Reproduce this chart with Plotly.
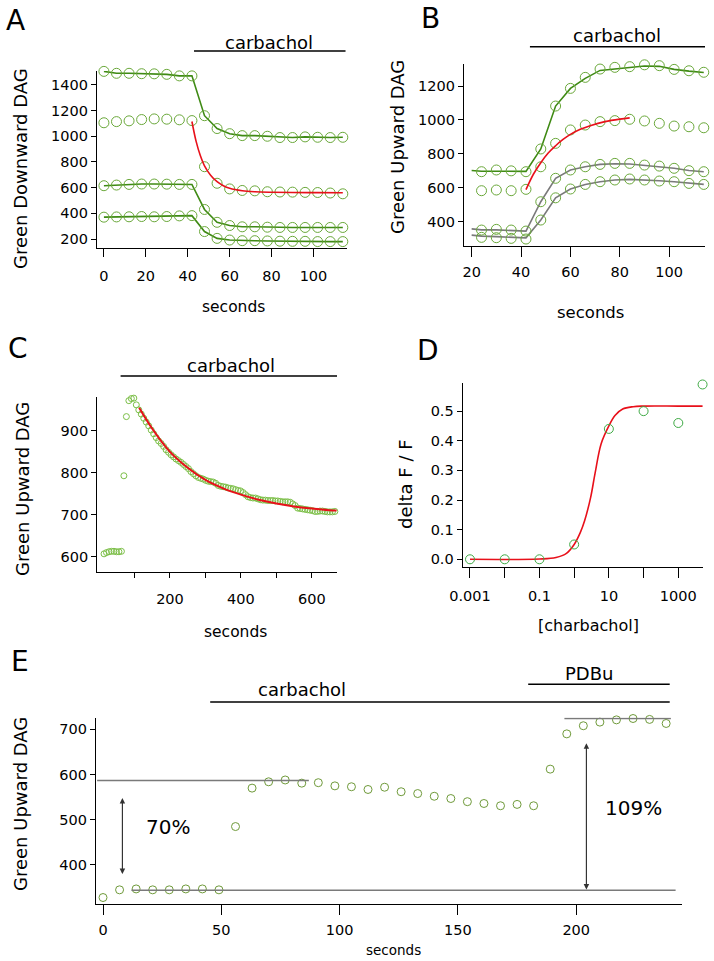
import plotly.graph_objects as go

W, H = 714, 961
FONT = "DejaVu Sans"

# ---------------- data ----------------
# A: Green Downward DAG, four cells
a_t = [0, 6, 12, 18, 24, 30, 36, 42, 48, 54, 60, 66, 72, 78, 84, 90, 96, 102, 108, 114]
a_cell1 = [1505, 1490, 1490, 1487, 1486, 1482, 1470, 1470, 1160, 1060, 1020, 1005, 1005, 1000, 990, 990, 995, 992, 990, 992]
a_cell2 = [1105, 1114, 1120, 1130, 1135, 1133, 1128, 1122, 763, 634, 590, 578, 575, 568, 566, 565, 563, 562, 558, 552]
a_cell3 = [615, 620, 625, 628, 628, 627, 625, 625, 430, 330, 305, 295, 295, 292, 290, 290, 290, 290, 290, 290]
a_cell4 = [370, 372, 373, 375, 373, 375, 380, 382, 258, 205, 192, 187, 187, 185, 183, 182, 182, 180, 180, 180]
a_fit_t = [42, 44, 46, 48, 51, 54, 57, 60, 66, 72, 80, 90, 102, 114]
a_fit_v = [1115, 960, 850, 770, 695, 646, 615, 595, 576, 568, 564, 562, 561, 560]

# B: Green Upward DAG, four cells
b_t = [24, 30, 36, 42, 48, 54, 60, 66, 72, 78, 84, 90, 96, 102, 108, 114]
b_cell1 = [695, 705, 700, 695, 829, 1082, 1186, 1251, 1300, 1310, 1314, 1325, 1320, 1298, 1290, 1281]
b_cell2 = [583, 587, 583, 591, 724, 862, 941, 970, 990, 996, 1004, 994, 980, 964, 960, 954]
b_cell3 = [351, 355, 351, 345, 518, 656, 705, 724, 738, 744, 744, 734, 728, 715, 701, 695]
b_cell4 = [308, 306, 302, 298, 410, 541, 593, 620, 636, 646, 652, 646, 640, 636, 626, 620]
b_line_t = [20, 24, 30, 36, 42, 48, 54, 60, 66, 72, 78, 84, 90, 96, 102, 108, 114]
b_line1 = [702, 698, 698, 698, 697, 829, 1082, 1186, 1245, 1292, 1302, 1310, 1318, 1316, 1298, 1288, 1280]
b_line3 = [358, 352, 352, 350, 345, 518, 656, 705, 724, 738, 742, 740, 733, 726, 715, 702, 695]
b_line4 = [321, 315, 312, 308, 305, 410, 541, 593, 620, 636, 646, 650, 648, 642, 636, 627, 620]
b_fit_t = [42, 45, 48, 51, 54, 57, 60, 64, 68, 74, 80, 84]
b_fit_v = [589, 680, 748, 805, 848, 885, 915, 945, 966, 990, 1005, 1012]

# C: long carbachol response
c_t = [14, 21, 28, 35, 42, 49, 56, 63, 70, 77, 84, 91, 98, 105, 112, 119, 126, 133, 140, 147,
       154, 161, 168, 175, 182, 189, 196, 203, 210, 217, 224, 231, 238, 245, 252, 259, 266, 273,
       280, 287, 294, 301, 308, 315, 322, 329, 336, 343, 350, 357, 364, 371, 378, 385, 392, 399,
       406, 413, 420, 427, 434, 441, 448, 455, 462, 469, 476, 483, 490, 497, 504, 511, 518, 525,
       532, 539, 546, 553, 560, 567, 574, 581, 588, 595, 602, 609, 616, 623, 630, 637, 644, 651,
       658, 665]
c_val = [607, 610, 612, 613, 613, 612, 612, 613, 793, 934, 972, 977, 978, 962, 950, 940, 930, 921, 912, 902,
         893, 884, 876, 870, 863, 855, 849, 843, 838, 833, 829, 825, 820, 815, 810, 803, 798, 793,
         789, 787, 785, 782, 780, 779, 778, 775, 770, 768, 767, 766, 764, 763, 762, 760, 758, 757,
         753, 748, 743, 741, 740, 740, 738, 736, 735, 735, 734, 734, 734, 733, 733, 732, 731, 731,
         731, 730, 726, 722, 716, 715, 714, 713, 712, 711, 710, 708, 708, 709, 709, 708, 707, 707,
         707, 708]
c_fit_t = [113, 150, 200, 250, 300, 350, 400, 450, 500, 550, 600, 650, 670]
c_fit_v = [955, 905, 850, 812, 783, 763, 748, 736, 727, 720, 715, 711, 710]

# D: dose response
d_conc = [0.001, 0.01, 0.1, 1, 10, 100, 1000, 5000]
d_resp = [0.0, 0.0, 0.0, 0.05, 0.44, 0.50, 0.46, 0.59]
d_fit_conc = [0.001, 0.1, 0.3, 0.6, 1, 1.5, 2, 3, 4, 6, 10, 15, 25, 50, 100, 1000, 5000]
d_fit_resp = [0.0, 0.001, 0.006, 0.02, 0.05, 0.09, 0.13, 0.21, 0.29, 0.39, 0.45, 0.485, 0.507, 0.515, 0.517, 0.517, 0.517]

# E: carbachol then PDBu
e_t = [0, 7, 14, 21, 28, 35, 42, 49, 56, 63, 70, 77, 84, 91, 98, 105, 112, 119, 126, 133,
       140, 147, 154, 161, 168, 175, 182, 189, 196, 203, 210, 217, 224, 231, 238]
e_val = [328, 345, 347, 345, 345, 347, 347, 345, 485, 570, 584, 588, 581, 582, 575, 573, 567, 572, 562, 558,
         552, 547, 540, 536, 531, 534, 531, 612, 690, 708, 716, 721, 724, 722, 713]
e_levels = [587, 344, 724]          # carbachol peak, baseline, PDBu peak
e_level_spans = [(-2.5, 87), (12, 242), (195, 240)]
e_labels = ["70%", "109%"]

# ---------------- styles ----------------
GREEN_M = "#6aa83a"
GREEN_L = "#3f8a14"
GRAY = "#7a7a7a"
RED = "#e8101a"


def pxx(x):
    return x / W


def pxy(y):
    return 1 - y / H


fig = go.Figure()


def circles(x, y, xa, ya, color=GREEN_M, size=10, mode="markers", line_color=None):
    fig.add_trace(go.Scatter(
        x=x, y=y, xaxis=xa, yaxis=ya, mode=mode, cliponaxis=False,
        marker=dict(symbol="circle-open", size=size, color=color, line=dict(width=1, color=color)),
        line=dict(color=line_color or color, width=1.6),
        showlegend=False, hoverinfo="skip"))


def curve(x, y, xa, ya, color, width=1.6, shape="linear"):
    fig.add_trace(go.Scatter(
        x=x, y=y, xaxis=xa, yaxis=ya, mode="lines", cliponaxis=False,
        line=dict(color=color, width=width, shape=shape),
        showlegend=False, hoverinfo="skip"))


# A
for s in (a_cell1, a_cell3, a_cell4):
    circles(a_t, s, "x", "y", mode="lines+markers", line_color=GREEN_L)
circles(a_t, a_cell2, "x", "y")
curve(a_fit_t, a_fit_v, "x", "y", RED, shape="spline")

# B
curve(b_line_t, b_line1, "x2", "y2", GREEN_L)
curve(b_line_t, b_line3, "x2", "y2", GRAY)
curve(b_line_t, b_line4, "x2", "y2", GRAY)
for s in (b_cell1, b_cell2, b_cell3, b_cell4):
    circles(b_t, s, "x2", "y2")
curve(b_fit_t, b_fit_v, "x2", "y2", RED, shape="spline")

# C
circles(c_t, c_val, "x3", "y3", color="#7cbf48", size=6)
curve(c_fit_t, c_fit_v, "x3", "y3", RED, width=2, shape="spline")

# D
curve(d_fit_conc, d_fit_resp, "x4", "y4", RED, shape="spline")
circles(d_conc, d_resp, "x4", "y4", color="#3faa45", size=9)

# E
for lvl, (x0, x1) in zip(e_levels, e_level_spans):
    fig.add_shape(type="line", xref="x5", yref="y5", x0=x0, x1=x1, y0=lvl, y1=lvl,
                  line=dict(color=GRAY, width=1.5))
circles(e_t, e_val, "x5", "y5", color="#6f9a3a", size=8)

ax_common = dict(showline=True, linecolor="black", linewidth=1.2, ticks="outside",
                 tickcolor="black", tickwidth=1, showgrid=False, zeroline=False,
                 automargin=False,
                 tickfont=dict(size=14.5, color="black", family=FONT))

fig.update_layout(
    width=W, height=H, margin=dict(l=0, r=0, t=0, b=0, autoexpand=False),
    paper_bgcolor="white", plot_bgcolor="white",
    font=dict(family=FONT, color="black"),
    xaxis=dict(domain=[pxx(97), pxx(347)], range=[-3.3, 116], anchor="y",
               tickvals=[0, 20, 40, 60, 80, 100], ticklen=8, ticklabelstandoff=6, **ax_common),
    yaxis=dict(domain=[pxy(248), pxy(71)], range=[130, 1508], anchor="x",
               tickvals=[200, 400, 600, 800, 1000, 1200, 1400], ticklen=5, **ax_common),
    xaxis2=dict(domain=[pxx(464), pxx(705)], range=[16.9, 114.5], anchor="y2",
                tickvals=[20, 40, 60, 80, 100], ticklen=10, ticklabelstandoff=2, **ax_common),
    yaxis2=dict(domain=[pxy(246), pxy(64.3)], range=[257, 1328], anchor="x2",
                tickvals=[400, 600, 800, 1000, 1200], ticklen=5, **ax_common),
    xaxis3=dict(domain=[pxx(97.3), pxx(337)], range=[-5, 671], anchor="y3",
                tickvals=[100, 200, 300, 400, 500, 600], ticktext=["", "200", "", "400", "", "600"],
                ticklen=5, ticklabelstandoff=8, **ax_common),
    yaxis3=dict(domain=[pxy(572.3), pxy(397.3)], range=[563, 980], anchor="x3",
                tickvals=[600, 700, 800, 900], ticklen=5, **ax_common),
    xaxis4=dict(domain=[pxx(462.7), pxx(703.3)], type="log", range=[-3.21, 3.72], anchor="y4",
                tickvals=[0.001, 0.01, 0.1, 1, 10, 100, 1000],
                ticktext=["0.001", "", "0.1", "", "10", "", "1000"],
                ticklen=10, ticklabelstandoff=6, **ax_common),
    yaxis4=dict(domain=[pxy(566.7), pxy(383)], range=[-0.025, 0.595], anchor="x4",
                tickvals=[0, 0.1, 0.2, 0.3, 0.4, 0.5], tickformat=".1f", ticklen=5, **ax_common),
    xaxis5=dict(domain=[pxx(96), pxx(682)], range=[-2.96, 244.7], anchor="y5",
                tickvals=[0, 50, 100, 150, 200], ticklen=10, ticklabelstandoff=2, **ax_common),
    yaxis5=dict(domain=[pxy(904.3), pxy(717.6)], range=[313, 726], anchor="x5",
                tickvals=[400, 500, 600, 700], ticklen=5, **ax_common),
)

# treatment bars: axis, start, end, bar y (px), label, label x (data), label y (px)
bars = [("x", 43, 115.3, 51, "carbachol", 79, 42),
        ("x2", 43.6, 116.5, 46.7, "carbachol", 79, 36),
        ("x3", 60.7, 682, 376, "carbachol", 371, 365),
        ("x5", 45.3, 239.5, 702, "carbachol", 84, 689),
        ("x5", 179.7, 239.5, 684.3, "PDBu", 205.3, 673)]
annots = []
for xa, x0, x1, ypx, label, xt, yt in bars:
    fig.add_shape(type="line", xref=xa, yref="paper", x0=x0, x1=x1, y0=pxy(ypx), y1=pxy(ypx),
                  line=dict(color="black", width=1.5))
    annots.append(dict(text=label, xref=xa, yref="paper", x=xt, y=pxy(yt), showarrow=False,
                       font=dict(size=18), xanchor="center", yanchor="middle"))

# panel letters
for letter, x, y in [("A", 15, 20), ("B", 430, 18), ("C", 18, 348), ("D", 428, 350), ("E", 20, 661)]:
    annots.append(dict(text=letter, xref="paper", yref="paper", x=pxx(x), y=pxy(y), showarrow=False,
                       font=dict(size=28), xanchor="center", yanchor="middle"))

# axis titles
for txt, x, y in [("Green Downward DAG", 20, 169), ("Green Upward DAG", 398, 147),
                  ("Green Upward DAG", 22, 489), ("delta F / F", 405, 484),
                  ("Green Upward DAG", 20, 804)]:
    annots.append(dict(text=txt, xref="paper", yref="paper", x=pxx(x), y=pxy(y), showarrow=False,
                       textangle=-90, font=dict(size=18), xanchor="center", yanchor="middle"))
for txt, x, y, s in [("seconds", 233, 307, 15.5), ("seconds", 590, 313, 16.5),
                     ("seconds", 235, 632, 15.5), ("[charbachol]", 588, 625, 16),
                     ("seconds", 393, 950, 13.5)]:
    annots.append(dict(text=txt, xref="paper", yref="paper", x=pxx(x), y=pxy(y), showarrow=False,
                       font=dict(size=s), xanchor="center", yanchor="middle"))

# E: double arrows and percentages
for xv, ytop, ybot in [(8.2, 548, 380), (204.3, 669, 346)]:
    for y0, y1 in [(ytop, ybot), (ybot, ytop)]:
        annots.append(dict(text="", xref="x5", yref="y5", axref="x5", ayref="y5",
                           x=xv, y=y0, ax=xv, ay=y1, showarrow=True, arrowhead=2,
                           arrowsize=1.1, arrowwidth=1, arrowcolor="#333333"))
annots.append(dict(text=e_labels[0], xref="x5", yref="y5", x=27.5, y=484, showarrow=False,
                   font=dict(size=20)))
annots.append(dict(text=e_labels[1], xref="x5", yref="y5", x=224, y=526, showarrow=False,
                   font=dict(size=20)))

fig.update_layout(annotations=annots)
# page body margin would shift the figure by 8px
fig.write_html("out.html", config={"displayModeBar": False},
               post_script="document.body.style.margin='0';")
